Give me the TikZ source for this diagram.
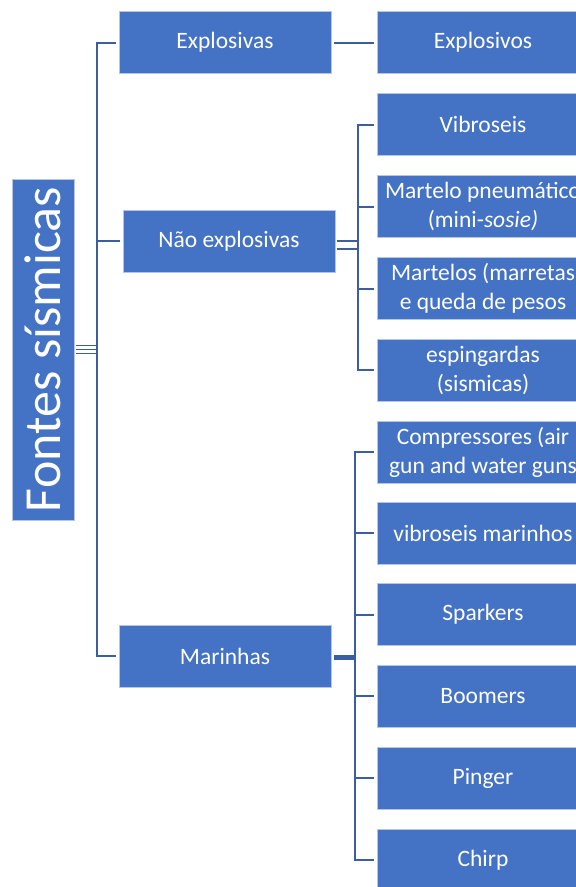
\documentclass[tikz,border=0pt]{standalone}
\usepackage{fontspec}
\setmainfont{Carlito}
\definecolor{boxblue}{HTML}{4472C4}
\definecolor{linkblue}{HTML}{3A5DA4}
\definecolor{edgeblue}{HTML}{B4C5E7}
\begin{document}
\begin{tikzpicture}[x=1pt,y=-1pt,
  box/.style={fill=boxblue,draw=edgeblue,line width=0.8pt,text=white,
    minimum width=212pt,minimum height=62pt,inner sep=0pt,align=center,
    font=\fontsize{23.5}{29}\selectfont},
  conn/.style={draw=linkblue,line width=2pt},
  thin/.style={draw=linkblue,line width=1.8pt}]
\useasboundingbox (0,0) rectangle (576,887);
\clip (0,0) rectangle (576,887);
% root
\node[fill=boxblue,draw=edgeblue,line width=0.8pt,text=white,rotate=90,
  minimum width=341pt,minimum height=62pt,inner sep=0pt,
  font=\fontsize{52}{60}\selectfont] (root) at (43,349.5) {Fontes sísmicas};
% level 1
\node[box] (expa) at (225,42.5) {Explosivas};
\node[box] (nexp) at (229,241) {Não explosivas};
\node[box] (mar)  at (225,656) {Marinhas};
% level 2
\node[box] (expo) at (483,42.5) {Explosivos};
\node[box] (vib)  at (483,124.5) {Vibroseis};
\node[box] (mpn)  at (483,206.5) {Martelo pneumático\\(mini-\textit{sosie)}};
\node[box] (mrt)  at (483,288.5) {Martelos (marretas\\e queda de pesos};
\node[box] (esp)  at (483,370) {espingardas\\(sismicas)};
\node[box] (cmp)  at (483,452) {Compressores (air\\gun and water guns};
\node[box] (vbm)  at (483,533) {vibroseis marinhos};
\node[box] (spk)  at (483,614.5) {Sparkers};
\node[box] (bmr)  at (483,696) {Boomers};
\node[box] (png)  at (483,778) {Pinger};
\node[box] (chp)  at (483,860) {Chirp};
% buses
\coordinate (bl) at (97,0);
\coordinate (bn) at (358,0);
\coordinate (bm) at (355,0);
% root connectors
\foreach \dy in {-4,0,4}
  \draw[thin] ([yshift=\dy pt,xshift=2pt]root.south) -- ([yshift=\dy pt]root.south -| bl);
\draw[conn] ([xshift=-3pt]expa.west) -- (expa.west -| bl) -- (mar.west -| bl) -- ([xshift=-3pt]mar.west);
\draw[conn] ([xshift=-3pt]nexp.west) -- (nexp.west -| bl);
% explosive
\draw[conn] ([xshift=3pt]expa.east) -- ([xshift=-3pt]expo.west);
% non-explosive
\draw[thin] ([xshift=2pt]nexp.east) -- (nexp.east -| bn);
\draw[thin] ([xshift=2pt,yshift=-8pt]nexp.east) -- ([yshift=-8pt]nexp.east -| bn);
\draw[conn] ([xshift=-3pt]vib.west) -- (vib.west -| bn) -- (esp.west -| bn) -- ([xshift=-3pt]esp.west);
\foreach \n in {mpn,mrt}
  \draw[conn] ([xshift=-3pt]\n.west) -- (\n.west -| bn);
% marine
\draw[draw=linkblue,line width=5pt] ([xshift=3pt,yshift=-1.5pt]mar.east) -- ([yshift=-1.5pt]mar.east -| bm);
\draw[conn] ([xshift=-3pt]cmp.west) -- (cmp.west -| bm) -- (chp.west -| bm) -- ([xshift=-3pt]chp.west);
\foreach \n in {vbm,spk,bmr,png}
  \draw[conn] ([xshift=-3pt]\n.west) -- (\n.west -| bm);
\end{tikzpicture}
\end{document}
